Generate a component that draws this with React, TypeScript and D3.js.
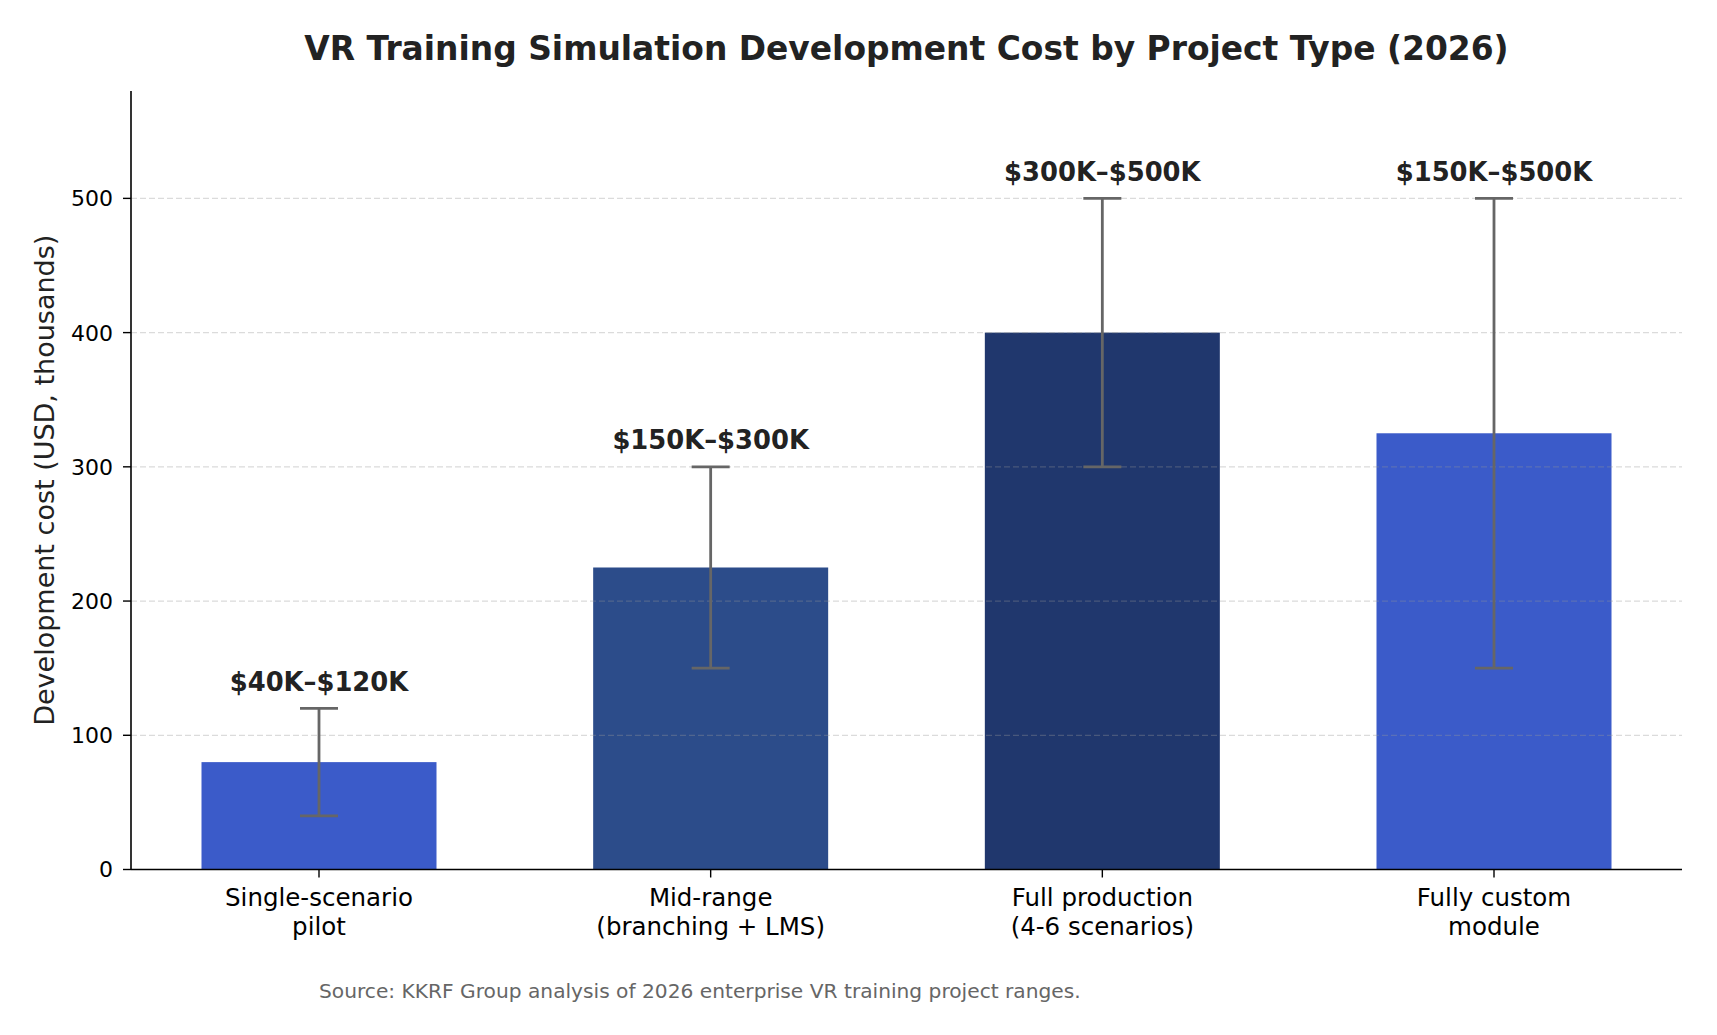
import * as d3 from 'd3';

const categories = ['Single-scenario\npilot', 'Mid-range\n(branching + LMS)', 'Full production\n(4-6 scenarios)', 'Fully custom\nmodule'];
const lowCost = [40, 150, 300, 150];
const highCost = [120, 300, 500, 500];
const rangeLabels = ['$40K–$120K', '$150K–$300K', '$300K–$500K', '$150K–$500K'];
const barColors = ['#3b5bc9', '#2c4c8a', '#20376d', '#3b5bc9'];
const yTicks = [0, 100, 200, 300, 400, 500];

const W = 1717;
const H = 1035;
const margin = { left: 131, right: 35, top: 91, bottom: 165.5 };
const FONT = '"DejaVu Sans", sans-serif';

export default function App() {
  const midpoints = lowCost.map((lo, i) => (lo + highCost[i]) / 2);

  const x = d3.scaleLinear()
    .domain([-0.48, categories.length - 1 + 0.48])
    .range([margin.left, W - margin.right]);
  const y = d3.scaleLinear()
    .domain([0, 580])
    .range([H - margin.bottom, margin.top]);

  const barW = x(0.6) - x(0);
  const cap = 19;
  const [x0, x1] = x.range();

  return (
    <svg width={W} height={H} style={{ display: 'block', position: 'absolute', left: 0, top: 0, background: '#fff' }}>
      <text x={(x0 + x1) / 2} y={60} textAnchor="middle" fontFamily={FONT} fontWeight="bold" fontSize={32.9} fill="#222">
        VR Training Simulation Development Cost by Project Type (2026)
      </text>

      {/* bars at the middle of each cost range */}
      {midpoints.map((v, i) => (
        <rect key={i} x={x(i) - barW / 2} y={y(v)} width={barW} height={y(0) - y(v)} fill={barColors[i]} />
      ))}

      {/* grid sits above bars, faint */}
      {yTicks.filter(t => t > 0).map(t => (
        <line key={t} x1={x0} x2={x1} y1={y(t)} y2={y(t)} stroke="#999" strokeOpacity={0.35} strokeWidth={1.2} strokeDasharray="6,3" />
      ))}

      {/* range whiskers */}
      {lowCost.map((lo, i) => (
        <g key={i} stroke="#666" strokeWidth={2.8}>
          <line x1={x(i)} x2={x(i)} y1={y(lo)} y2={y(highCost[i])} />
          <line x1={x(i) - cap} x2={x(i) + cap} y1={y(lo)} y2={y(lo)} />
          <line x1={x(i) - cap} x2={x(i) + cap} y1={y(highCost[i])} y2={y(highCost[i])} />
        </g>
      ))}

      {rangeLabels.map((lab, i) => (
        <text key={i} x={x(i)} y={y(highCost[i]) - 17.5} textAnchor="middle" fontFamily={FONT} fontWeight="bold" fontSize={25.8} fill="#222">
          {lab}
        </text>
      ))}

      {/* spines */}
      <line x1={x0} x2={x0} y1={y(0)} y2={y.range()[1]} stroke="#000" strokeWidth={1.6} />
      <line x1={x0} x2={x1} y1={y(0)} y2={y(0)} stroke="#000" strokeWidth={1.6} />

      {yTicks.map(t => (
        <g key={t}>
          <line x1={x0 - 8} x2={x0} y1={y(t)} y2={y(t)} stroke="#000" strokeWidth={1.4} />
          <text x={x0 - 18} y={y(t)} dy="0.36em" textAnchor="end" fontFamily={FONT} fontSize={22} fill="#000">{t}</text>
        </g>
      ))}

      {categories.map((c, i) => (
        <g key={i}>
          <line x1={x(i)} x2={x(i)} y1={y(0)} y2={y(0) + 8} stroke="#000" strokeWidth={1.4} />
          {c.split('\n').map((ln, j) => (
            <text key={j} x={x(i)} y={y(0) + 36.5 + j * 29.4} textAnchor="middle" fontFamily={FONT} fontSize={24.5} fill="#000">{ln}</text>
          ))}
        </g>
      ))}

      <text transform={`translate(54, ${(y.range()[0] + y.range()[1]) / 2}) rotate(-90)`} textAnchor="middle" fontFamily={FONT} fontSize={27} fill="#222">
        Development cost (USD, thousands)
      </text>

      <text x={x(0)} y={998} fontFamily={FONT} fontSize={20.2} fill="#666">
        Source: KKRF Group analysis of 2026 enterprise VR training project ranges.
      </text>
    </svg>
  );
}
